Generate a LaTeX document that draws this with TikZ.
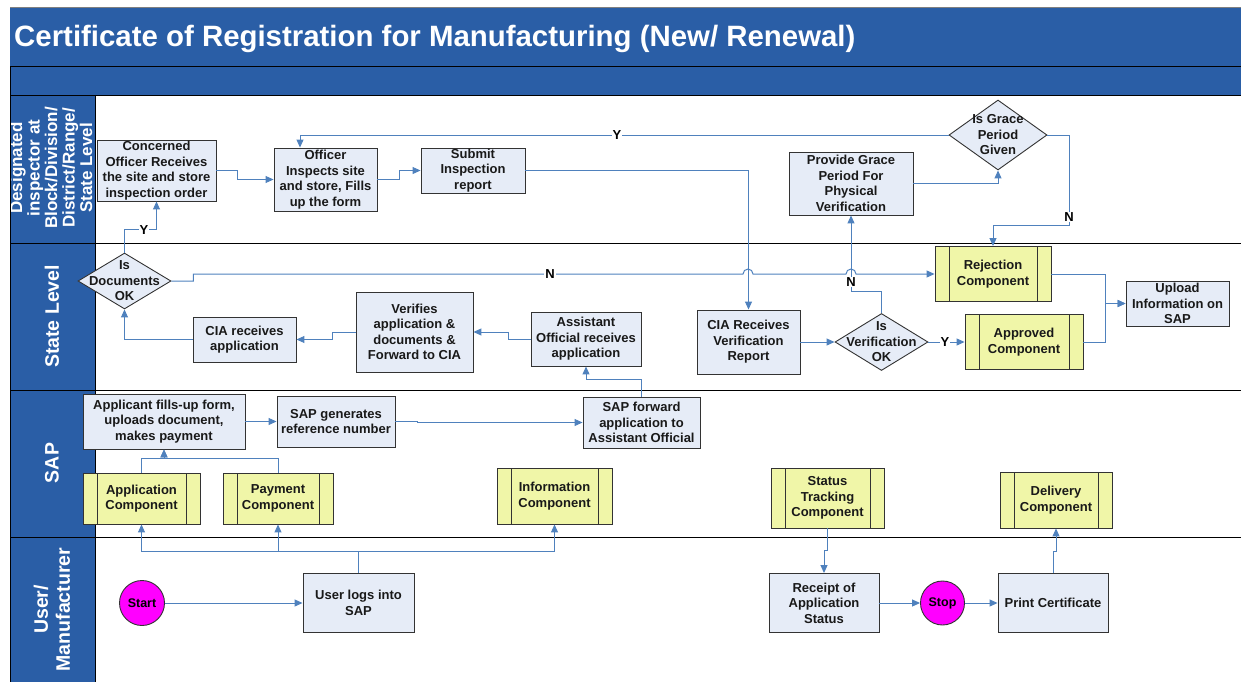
\documentclass[tikz,border=0pt]{standalone}
\usepackage{fontspec}
\setmainfont{Liberation Sans}
\usetikzlibrary{arrows.meta,shapes.geometric,calc}
\definecolor{hdrblue}{HTML}{2A5EA6}
\definecolor{procfill}{HTML}{E6ECF7}
\definecolor{compfill}{HTML}{F0F6A8}
\definecolor{conncol}{HTML}{4F81BD}
\definecolor{termfill}{HTML}{FF00FF}
\begin{document}
\begin{tikzpicture}[x=1pt,y=-1pt,
  txt/.style={font=\bfseries\fontsize{13}{15.5}\selectfont, align=center, text=black!90},
  proc/.style={txt, rectangle, draw=black!80, fill=procfill, line width=0.9pt, inner sep=0pt},
  comp/.style={txt, rectangle, draw=black!80, fill=compfill, line width=0.9pt, inner sep=0pt,
     path picture={\draw[black!80,line width=0.9pt]
       ([xshift=14pt]path picture bounding box.north west) -- ([xshift=14pt]path picture bounding box.south west)
       ([xshift=-14pt]path picture bounding box.north east) -- ([xshift=-14pt]path picture bounding box.south east);}},
  dec/.style={diamond, draw=black!80, fill=procfill, line width=0.9pt, inner sep=0pt},
  dectext/.style={txt, inner sep=0pt},
  term/.style={circle, draw=black!80, fill=termfill, line width=0.9pt, minimum size=45pt, inner sep=0pt, font=\bfseries\fontsize{12.5}{14}\selectfont},
  conn/.style={draw=conncol, line width=1pt, -{Triangle[length=8pt,width=7pt]}},
  lbl/.style={font=\bfseries\fontsize{13}{15}\selectfont, fill=white, inner sep=1pt, text=black},
  lanetxt/.style={text=white, font=\bfseries\fontsize{19.5}{22}\selectfont, align=center, rotate=90},
  lanesep/.style={draw=black, line width=1pt},
]
\useasboundingbox (0,0) rectangle (1241,682);
% header
\fill[hdrblue] (10,8) rectangle (1241,96);
\draw[gray, line width=1pt] (10,8) -- (1241,8);
\draw[lanesep] (10,67) -- (1241,67) (10,96) -- (1241,96);
\node[anchor=west, text=white, font=\bfseries\fontsize{29.4}{31}\selectfont, inner sep=0pt] (title) at (14,38.5) {Certificate of Registration for Manufacturing (New/ Renewal)};
% label column
\fill[hdrblue] (10,96) rectangle (95,682);
\begin{scope}
  \clip (10,96) rectangle (97,243);
  \node[text=white, font=\bfseries\fontsize{17}{17.5}\selectfont, align=center, rotate=90] (l1) at (51,168) {Designated\\inspector at\\Block/Division/\\District/Range/\\State Level};
\end{scope}
\node[lanetxt] (l2) at (52,316.5) {State Level};
\node[lanetxt] (l3) at (52,463) {SAP};
\node[lanetxt] (l4) at (52,609.5) {User/\\Manufacturer};
\draw[lanesep] (10,243) -- (1241,243) (10,390) -- (1241,390) (10,537) -- (1241,537);
\draw[lanesep] (10,67) -- (10,682) (95,96) -- (95,682);

% lane 1
\node[proc, minimum width=119pt, minimum height=61pt] (co) at (156.5,170.5) {Concerned\\Officer Receives\\the site and store\\inspection order};
\node[proc, minimum width=103pt, minimum height=63pt] (oi) at (325.5,179.5) {Officer\\Inspects site\\and store, Fills\\up the form};
\node[proc, minimum width=104pt, minimum height=45pt] (sir) at (473,170.5) {Submit\\Inspection\\report};
\node[proc, minimum width=124pt, minimum height=63pt] (pg) at (851,183.5) {Provide Grace\\Period For\\Physical\\Verification};
\node[dec, minimum width=98pt, minimum height=70pt] (gpg) at (998,135) {};
\node[dectext] (gpgt) at (gpg) {Is Grace\\Period\\Given};

% lane 2
\node[dec, minimum width=93pt, minimum height=56pt] (dok) at (124.5,281) {};
\node[dectext] (dokt) at (dok) {Is\\Documents\\OK};
\node[proc, minimum width=103pt, minimum height=45pt] (cia) at (244.5,339.5) {CIA receives\\application};
\node[proc, minimum width=117pt, minimum height=80pt] (ver) at (414.5,332) {Verifies\\application \&\\documents \&\\Forward to CIA};
\node[proc, minimum width=110pt, minimum height=54pt] (aor) at (586,339) {Assistant\\Official receives\\application};
\node[proc, minimum width=103pt, minimum height=64pt] (cvr) at (748.5,342) {CIA Receives\\Verification\\Report};
\node[dec, minimum width=93pt, minimum height=57pt] (dvo) at (881.5,342) {};
\node[dectext] (dvot) at (dvo) {Is\\Verification\\OK};
\node[comp, minimum width=116pt, minimum height=55pt] (rej) at (993,274) {Rejection\\Component};
\node[comp, minimum width=118pt, minimum height=55pt] (app) at (1024,342) {Approved\\Component};
\node[proc, minimum width=103pt, minimum height=45pt] (up) at (1177.5,303.5) {Upload\\Information on\\SAP};

% lane 3
\node[proc, minimum width=162pt, minimum height=55pt] (af) at (164,421.5) {Applicant fills-up form,\\uploads document,\\makes payment};
\node[proc, minimum width=118pt, minimum height=51pt] (sg) at (336,421.5) {SAP generates\\reference number};
\node[proc, minimum width=117pt, minimum height=51pt] (sfw) at (641.5,422.5) {SAP forward\\application to\\Assistant Official};
\node[comp, minimum width=117pt, minimum height=51pt] (acomp) at (141.5,498.5) {Application\\Component};
\node[comp, minimum width=110pt, minimum height=51pt] (pcomp) at (278,498.5) {Payment\\Component};
\node[comp, minimum width=115pt, minimum height=56pt] (icomp) at (554.5,496) {Information\\Component};
\node[comp, minimum width=113pt, minimum height=60pt] (stc) at (827.5,498) {Status\\Tracking\\Component};
\node[comp, minimum width=112pt, minimum height=56pt] (dc) at (1056,500) {Delivery\\Component};

% lane 4
\node[term] (start) at (142,603) {Start};
\node[proc, minimum width=111pt, minimum height=59pt] (ul) at (358.5,603) {User logs into\\SAP};
\node[proc, minimum width=110pt, minimum height=59pt] (rcpt) at (824,603) {Receipt of\\Application\\Status};
\node[term, minimum size=44pt] (stop) at (942.5,603) {Stop};
\node[proc, minimum width=110pt, minimum height=59pt] (pc) at (1053,603) {Print Certificate};

% connectors
\draw[conn] (co.east) -- ++(21,0) |- (oi.west);
\draw[conn] (oi.east) -- ++(22,0) |- (sir.west);
\draw[conn] (sir.east) -| (cvr.north);
\draw[conn] (dok.north) -- ++(0,-23) -| (co.south);
\draw[conn] (dok.east) -- ++(22,0) |- (743,274) arc[start angle=180,end angle=0,radius=5pt] -- (846,274) arc[start angle=180,end angle=0,radius=5pt] -- (rej.west);
\draw[conn] (cvr.east) -- (dvo.west);
\draw[conn] (dvo.east) -- (app.west);
\draw[conn] (dvo.north) -- ++(0,-22) -| (pg.south);
\draw[conn] (pg.east) -| (gpg.south);
\draw[conn] (gpg.west) -| ([xshift=-25.5pt]oi.north);
\draw[conn] (gpg.east) -- ++(22,0) -- ++(0,90) -| (rej.north);
\draw[conn] (rej.east) -- ++(54,0) |- (up.west);
\draw[conn] (app.east) -- ++(22,0) |- (up.west);
\draw[conn] (aor.west) -- ++(-22,0) |- (ver.east);
\draw[conn] (ver.west) -- ++(-23,0) |- (cia.east);
\draw[conn] (cia.west) -| (dok.south);
\draw[conn] (sfw.north) -- ++(0,-17) -| (aor.south);
\draw[conn] (af.east) -- (sg.west);
\draw[conn] (sg.east) -- ++(22,0) |- (sfw.west);
\draw[conn] (acomp.north) -- ++(0,-14) -| (af.south);
\draw[conn] (pcomp.north) -- ++(0,-14) -| (af.south);
\draw[conn] (ul.north) -- ++(0,-22) -| (acomp.south);
\draw[conn] (ul.north) -- ++(0,-22) -| (pcomp.south);
\draw[conn] (ul.north) -- ++(0,-22) -| (icomp.south);
\draw[conn] (start) -- (ul.west);
\draw[conn] (stc.south) -- ++(0,22) -| (rcpt.north);
\draw[conn] (rcpt.east) -- (stop.west);
\draw[conn] (stop.east) -- (pc.west);
\draw[conn] (pc.north) -- ++(0,-22) -| (dc.south);

% edge labels
\node[lbl] (ly1) at (144,230) {Y};
\node[lbl] (ln1) at (550,274) {N};
\node[lbl] (ly2) at (617,135) {Y};
\node[lbl, inner sep=0.5pt] (ln2) at (851,282) {N};
\node[lbl] (ln3) at (1069,217) {N};
\node[lbl] (ly3) at (945,342) {Y};
\end{tikzpicture}
\end{document}
